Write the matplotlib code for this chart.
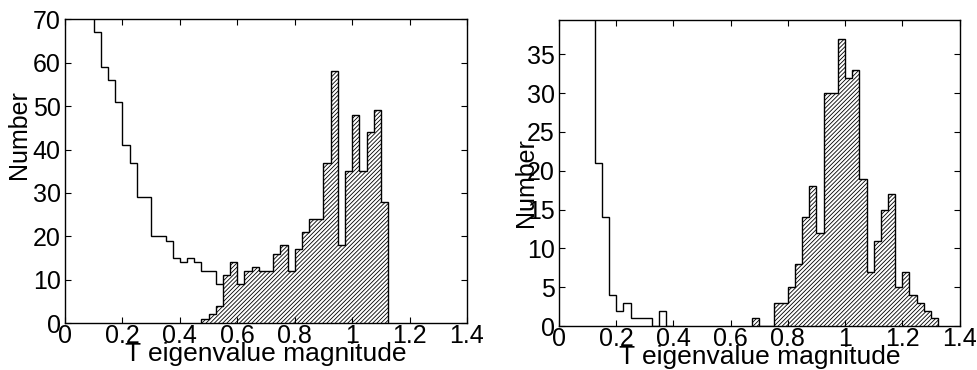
import matplotlib
matplotlib.use("Agg")
import matplotlib.pyplot as plt
import numpy as np

plt.rcParams['font.family'] = ['Liberation Sans', 'DejaVu Sans']
plt.rcParams['hatch.linewidth'] = 0.6

BIN = 0.025

# left panel: outline histogram (first bin runs off the top of the axes)
left_line_start = 0.075
left_line_counts = [90, 67, 59, 56, 51, 41, 37, 29, 29, 20, 20, 19, 15, 14, 15, 14, 12, 12, 9]
# left panel: hatched histogram
left_hatch_start = 0.475
left_hatch_counts = [1, 2, 4, 11, 14, 9, 12, 13, 12, 12, 16, 18, 12, 17, 21, 24, 24,
                     37, 58, 18, 35, 48, 35, 44, 49, 28]

# right panel
right_line_start = 0.1
right_line_counts = [60, 21, 14, 4, 2, 3, 1, 1, 1, 0, 2, 0]
right_hatch_start = 0.675
right_hatch_counts = [1, 0, 0, 3, 3, 5, 8, 14, 18, 12, 30, 30, 37, 32, 33, 19, 7, 11,
                      15, 17, 5, 7, 4, 3, 2, 1]

xticks = [0, 0.2, 0.4, 0.6, 0.8, 1.0, 1.2, 1.4]
xticklabels = ['0', '0.2', '0.4', '0.6', '0.8', '1', '1.2', '1.4']
left_yticks = [0, 10, 20, 30, 40, 50, 60, 70]
right_yticks = [0, 5, 10, 15, 20, 25, 30, 35]


def edges(start, counts):
    return start + BIN * np.arange(len(counts) + 1)


def draw_panel(ax, line_start, line_counts, hatch_start, hatch_counts, ytop, yticks):
    ax.stairs(line_counts, edges(line_start, line_counts), baseline=None,
              color='black', linewidth=1.0)
    ax.stairs(hatch_counts, edges(hatch_start, hatch_counts), fill=True,
              facecolor='white', edgecolor='black', hatch='////////', linewidth=1.0)
    ax.set_xlim(0, 1.4)
    ax.set_ylim(0, ytop)
    ax.set_xticks(xticks)
    ax.set_xticklabels(xticklabels)
    ax.set_yticks(yticks)
    ax.set_yticklabels([str(v) for v in yticks])
    ax.tick_params(direction='in', top=True, right=True, length=4, width=0.8,
                   labelsize=18)
    ax.tick_params(axis='x', pad=1)
    ax.tick_params(axis='y', pad=3)
    for s in ax.spines.values():
        s.set_linewidth(1.0)
    ax.set_xlabel('T eigenvalue magnitude', fontsize=19, labelpad=-5)
    ax.set_ylabel('Number', fontsize=18)


fig = plt.figure(figsize=(9.78, 3.70), dpi=100)
ax1 = fig.add_axes([0.0665, 0.1268, 0.411, 0.821])
ax2 = fig.add_axes([0.5716, 0.1187, 0.4095, 0.827])

draw_panel(ax1, left_line_start, left_line_counts, left_hatch_start, left_hatch_counts,
           70, left_yticks)
draw_panel(ax2, right_line_start, right_line_counts, right_hatch_start, right_hatch_counts,
           39.4, right_yticks)

ax1.yaxis.set_label_coords(-0.085, 0.62)
ax2.yaxis.set_label_coords(-0.052, 0.47)

fig.savefig('out.png', dpi=100)
